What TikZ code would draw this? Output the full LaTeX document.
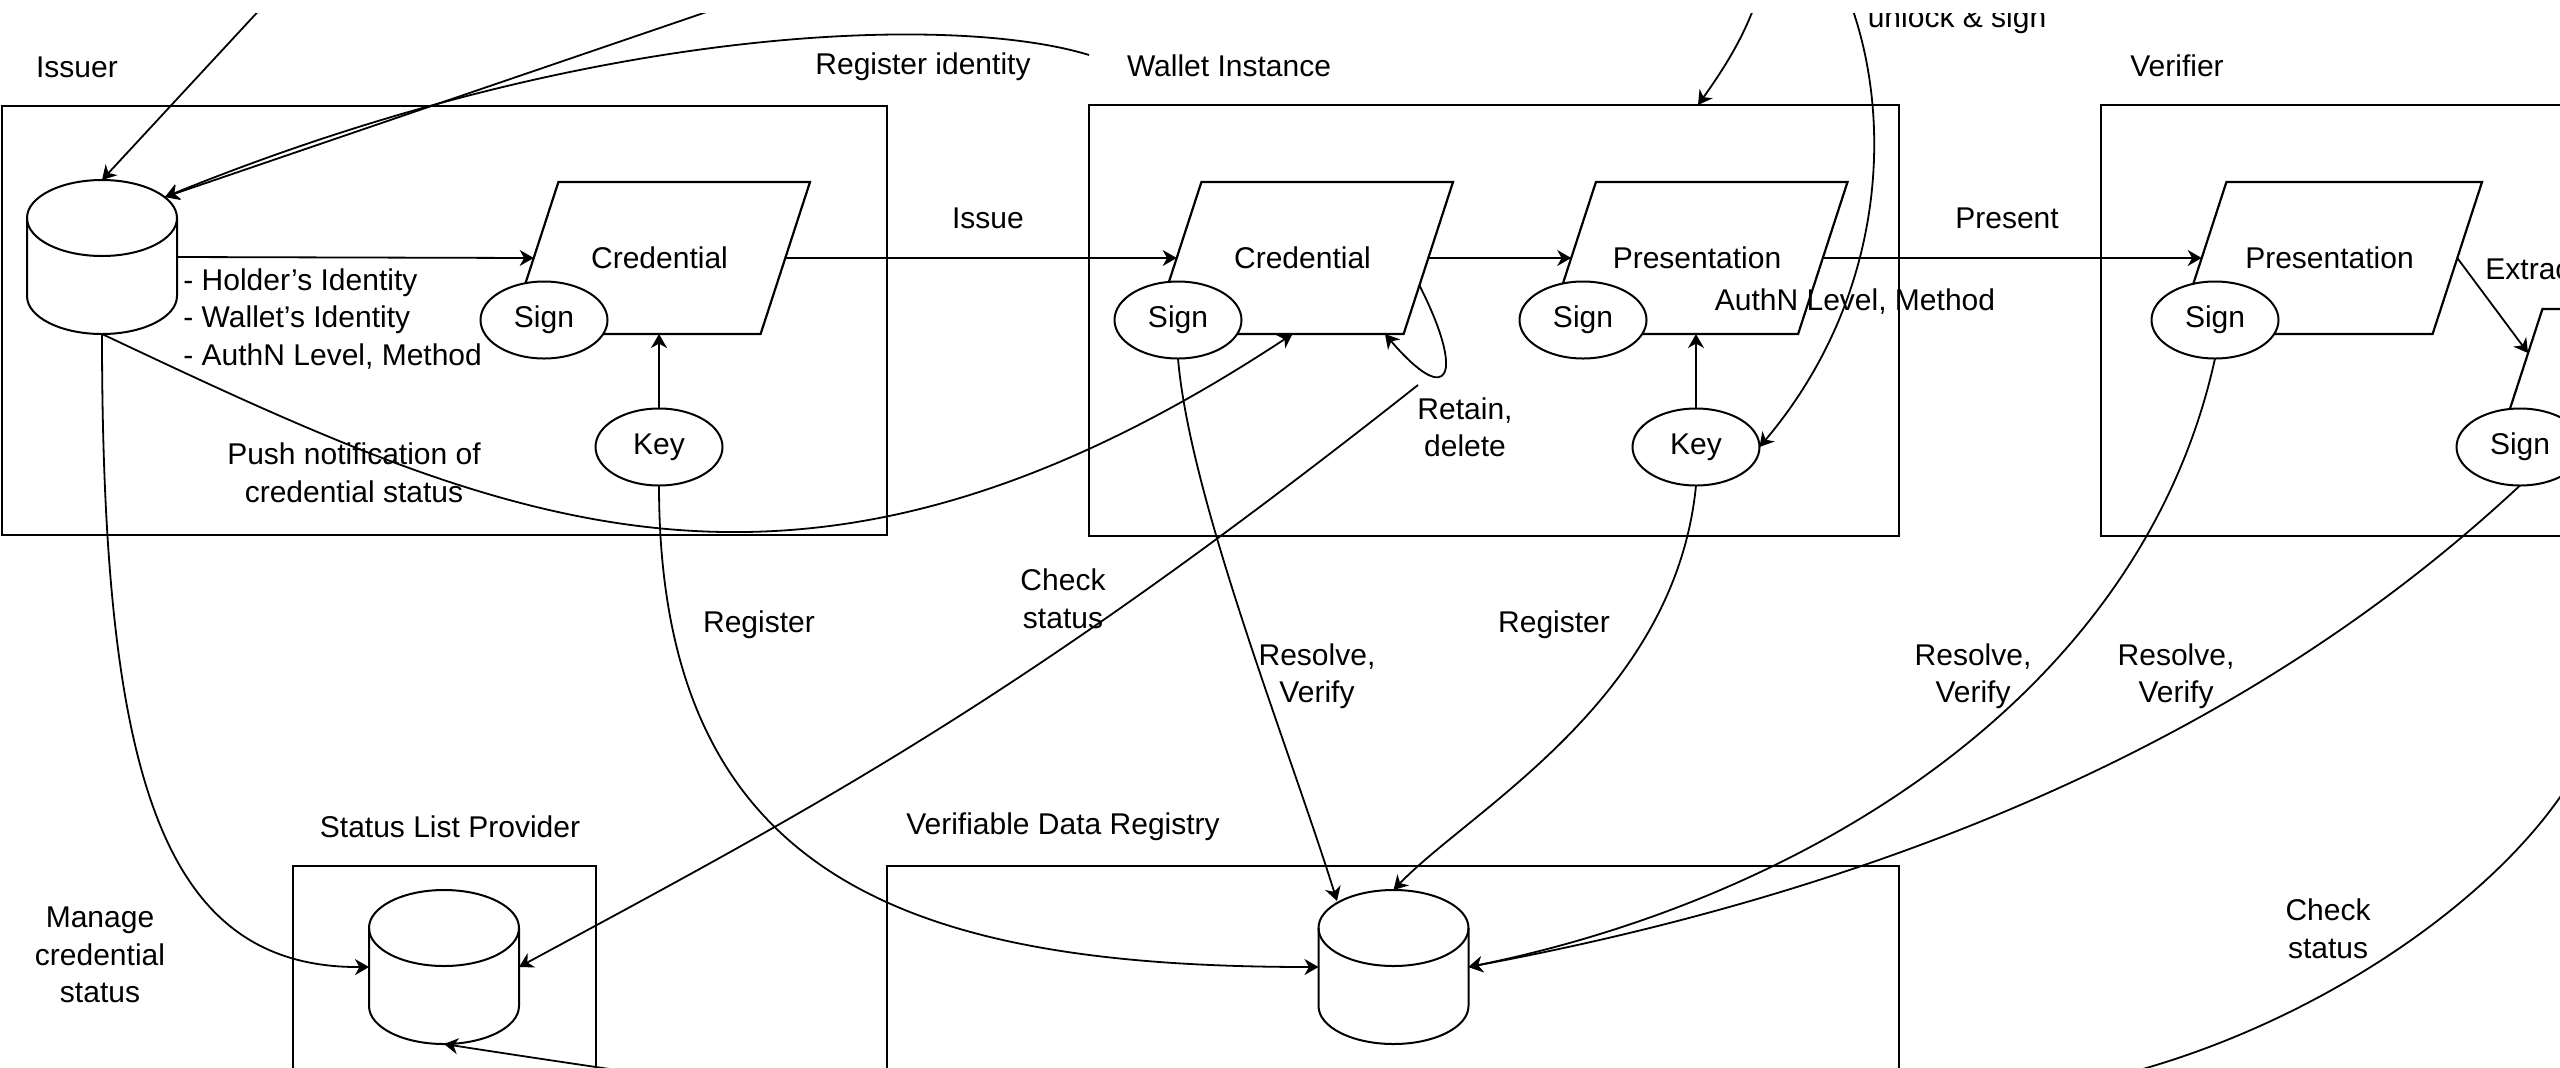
\documentclass[tikz,border=0pt]{standalone}
\usepackage{fontspec}
\setmainfont{Liberation Sans}
\usetikzlibrary{arrows.meta,calc,shapes.geometric}

% vertical cylinder (data store): node name, centre
\newcommand\dbcyl[2]{%
  \node[dbnode] (#1) at #2 {};
  \filldraw[dbline, fill=white] ([yshift=-19pt]#1.north west)
    arc[start angle=180,end angle=0,x radius=37.5pt,y radius=19pt]
    -- ([yshift=19pt]#1.south east)
    arc[start angle=0,end angle=-180,x radius=37.5pt,y radius=19pt]
    -- cycle;
  \draw[dbline] ([yshift=-19pt]#1.north west)
    arc[start angle=180,end angle=360,x radius=37.5pt,y radius=19pt];
}

% parallelogram (document): node name, centre, text, width
\newcommand\paranode[4]{%
  \node[parabox, minimum width=#4] (#1) at #2 {};
  \filldraw[paraline, fill=white] (#1.south west) -- ([xshift=24.7pt]#1.north west)
    -- (#1.north east) -- ([xshift=-24.7pt]#1.south east) -- cycle;
  \node[lbl] (#1-t) at (#1.center) {#3};
}

\begin{document}
\begin{tikzpicture}[x=0.5pt,y=-0.5pt,
  font=\fontsize{15}{18.75}\selectfont,
  lbl/.style={inner sep=0pt, align=center},
  groupbox/.style={draw, line width=1.3pt, inner sep=0pt, outer sep=0pt},
  parabox/.style={rectangle, minimum height=76pt, inner sep=0pt, outer sep=0pt},
  paraline/.style={line width=1.1pt},
  oval/.style={ellipse, draw, fill=white, line width=1pt,
    minimum width=63.5pt, minimum height=38.5pt, inner sep=0pt, outer sep=0pt},
  dbnode/.style={rectangle, minimum width=75pt, minimum height=77pt,
    inner sep=0pt, outer sep=0pt},
  dbline/.style={line width=1pt},
  conn/.style={line width=0.9pt, -{Stealth[length=7pt,width=8pt,inset=2.2pt]}},
]
\useasboundingbox (0,0) rectangle (2560,1067);
\clip (0,13) rectangle (2560,1067);

% ---- group frames ----
\node[groupbox, minimum width=442.5pt, minimum height=214.5pt] (ibox) at (444.5,320.5) {};
\node[groupbox, minimum width=405pt, minimum height=215.5pt] (wbox) at (1494,320.5) {};
\node[groupbox, minimum width=299.5pt, minimum height=215.5pt] (vbox) at (2400.5,320.5) {};
\node[groupbox, minimum width=151.5pt, minimum height=127pt] (sbox) at (444.5,993) {};
\node[groupbox, minimum width=506pt, minimum height=127pt] (rbox) at (1393,993) {};

% ---- issuer ----
\dbcyl{idb}{(102,257)}
\paranode{icred}{(659.5,258)}{Credential}{150.5pt}
\node[oval] (isign) at (544,320) {Sign};
\node[oval] (ikey) at (659,447) {Key};

% ---- wallet instance ----
\paranode{wcred}{(1302.5,258)}{Credential}{150.5pt}
\node[oval] (wsign) at (1178,320) {Sign};
\paranode{wpres}{(1697,258)}{Presentation}{150.5pt}
\node[oval] (wsign2) at (1583,320) {Sign};
\node[oval] (wkey) at (1696,447) {Key};

% ---- verifier ----
\paranode{vpres}{(2329.5,258)}{Presentation}{152.5pt}
\node[oval] (vsign) at (2215,320) {Sign};
\paranode{vext}{(2643.5,385)}{}{150.5pt}
\node[oval] (vsign2) at (2520,447) {Sign};

% ---- registries ----
\dbcyl{sdb}{(444,967)}
\dbcyl{vdb}{(1393.5,967)}

% ---- free connector ends ----
\coordinate (topA) at (315,-50);
\coordinate (topB) at (888,-50);
\coordinate (regsrc) at (1089,55);
\coordinate (topC) at (1768,-40);
\coordinate (topD) at (1841,-20);
\coordinate (offR) at (2590,745);
\coordinate (offB) at (2100,1080);
\coordinate (wchk) at ($(wcred.center)+(115.5,127)$);

% ---- connectors ----
\draw[conn] (idb.east) -- ([xshift=12.35pt]icred.west);
\draw[conn] ([xshift=-12.35pt]icred.east) -- ([xshift=12.35pt]wcred.west);
\draw[conn] ([xshift=-12.35pt]wcred.east) -- ([xshift=12.35pt]wpres.west);
\draw[conn] ([xshift=-12.35pt]wpres.east) -- ([xshift=12.35pt]vpres.west);
\draw[conn] (ikey.north) -- (ikey.north |- icred.south);
\draw[conn] (wkey.north) -- (wkey.north |- wpres.south);
\draw[conn] ([xshift=-12.35pt]vpres.east) -- ($(vext.south west)!0.71!([xshift=24.7pt]vext.north west)$);

\draw[conn] (topA) -- (idb.north);
\draw[conn] (topB) -- ($(idb.north)+(63,17)$);
\draw[conn] (regsrc) .. controls (960,15) and (600,20) .. ($(idb.north)+(63,17)$);
\draw[conn] (topC) .. controls (1755,20) and (1730,60) .. ($(wbox.north west)+(609,0)$);
\draw[conn] (topD) .. controls (1895,100) and (1892,290) .. (wkey.east);

\draw[conn] (idb.south) .. controls (505,524) and (796,661) .. ($(wcred.south)+(-10,0)$);
\draw[conn] (idb.south) .. controls (102,784) and (165,968) .. (sdb.west);
\draw[conn] ($([xshift=-24.7pt]wcred.south east)!0.32!(wcred.north east)$)
  .. controls (1465,375) and (1450,410) .. ($(wcred.south)+(82.5,0)$);
\draw[conn] (wchk) .. controls (1018,701) and (819,805) .. (sdb.east);

\draw[conn] (ikey.south) .. controls (659,885) and (918,967) .. (vdb.west);
\draw[conn] (wsign.south) .. controls (1190,500) and (1290,750) .. ($(vdb.north)+(-56.5,11)$);
\draw[conn] (wkey.south) .. controls (1675,700) and (1470,810) .. (vdb.north);
\draw[conn] (vsign.south) .. controls (2140,700) and (1800,900) .. (vdb.east);
\draw[conn] (vsign2.south) .. controls (2370,625) and (2069,855) .. (vdb.east);
\draw[conn] (offR) .. controls (2530,880) and (2320,1030) .. (offB)
  .. controls (1700,1220) and (1000,1130) .. (sdb.south);

% ---- titles and labels ----
\node[lbl] (tiss) at (77,67) {Issuer};
\node[lbl] (treg) at (923,67) {Register identity};
\node[lbl] (twal) at (1229,66) {Wallet Instance};
\node[lbl] (tver) at (2177,66) {Verifier};
\node[lbl] (tissue) at (988,218) {Issue};
\node[lbl] (tpres) at (2007,218) {Present};
\node[lbl, anchor=base] (tunl) at (1957,27) {unlock \& sign};
\node[lbl] (tauth) at (1855,302) {AuthN Level, Method};
\node[lbl, anchor=west] (textr) at (2485,269) {Extract};
\node[lbl] (tret) at (1465,427.5) {Retain,\\delete};
\node[lbl] (tchk) at (1063,599) {Check\\status};
\node[lbl] (tpush) at (354,473) {Push notification of\\credential status};
\node[lbl, anchor=west, align=left] (tattr) at (183,319)
  {- Holder's Identity\\- Wallet's Identity\\- AuthN Level, Method};
\node[lbl] (tman) at (100,955) {Manage\\credential\\status};
\node[lbl] (tregi) at (759,625) {Register};
\node[lbl] (tregw) at (1554,625) {Register};
\node[lbl] (tslp) at (450,827) {Status List Provider};
\node[lbl] (tvdr) at (1063,827) {Verifiable Data Registry};
\node[lbl] (trv1) at (1317,676) {Resolve,\\Verify};
\node[lbl] (trv2) at (1973,676) {Resolve,\\Verify};
\node[lbl] (trv3) at (2176,676) {Resolve,\\Verify};
\node[lbl] (tchk2) at (2328,929) {Check\\status};
\end{tikzpicture}
\end{document}
